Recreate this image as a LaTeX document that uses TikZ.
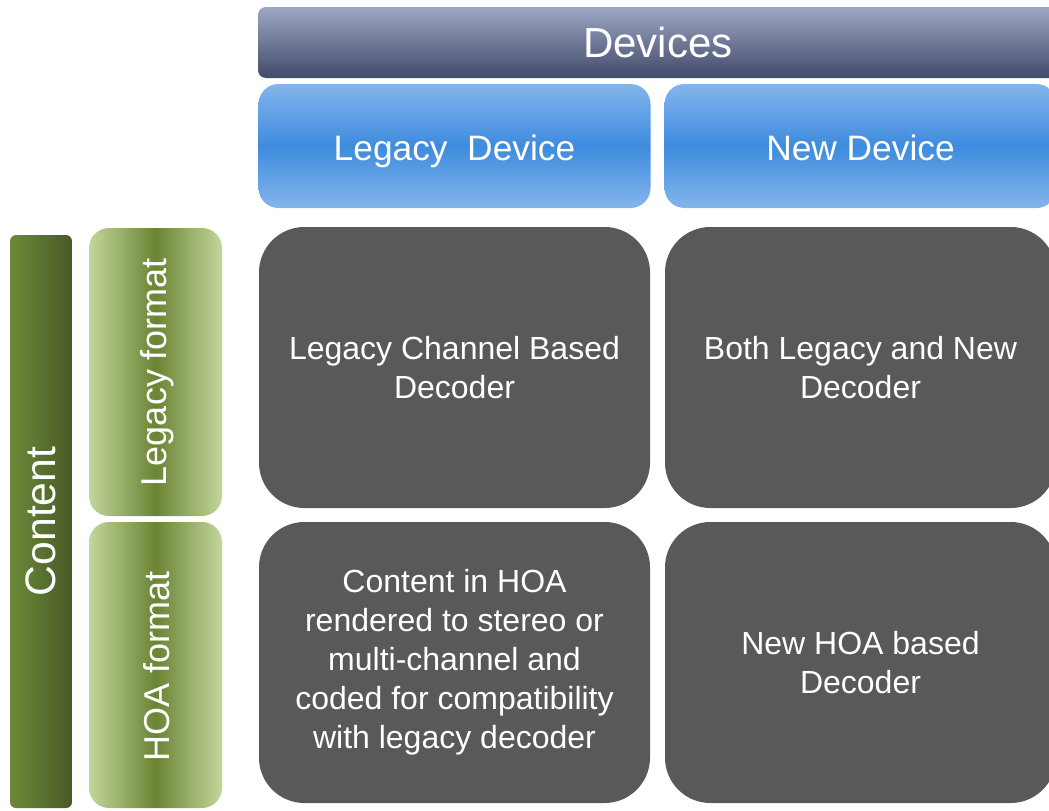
\documentclass[tikz,border=0pt]{standalone}
\usepackage{fontspec}
\setmainfont{Liberation Sans}
\definecolor{darkbox}{HTML}{595959}
\definecolor{devtop}{HTML}{9DA6C3}
\definecolor{devbot}{HTML}{414B69}
\definecolor{blueedge}{HTML}{84B5EC}
\definecolor{bluemid}{HTML}{3E8BDE}
\definecolor{greenedge}{HTML}{C3D69B}
\definecolor{greenmid}{HTML}{6A8434}
\definecolor{contl}{HTML}{6C8A3A}
\definecolor{contr}{HTML}{485A26}
\tikzset{
  base/.style={inner sep=0pt, outer sep=0pt, text=white, align=center},
  cell/.style={base, fill=darkbox, rounded corners=34pt, minimum width={391*0.75pt}, minimum height={281*0.75pt}, font=\fontsize{24}{29.2}\selectfont},
  header/.style={base, top color=blueedge, bottom color=blueedge, middle color=bluemid, rounded corners=15pt, minimum width={392*0.75pt}, minimum height={124*0.75pt}, text height=21pt, text depth=0pt, font=\fontsize{26.5}{30}\selectfont},
  fmtbox/.style={base, left color=greenedge, right color=greenedge, middle color=greenmid, rounded corners=15pt, minimum width={133*0.75pt}},
  sidetext/.style={base, rotate=90, font=\fontsize{27}{30}\selectfont}
}
\begin{document}
\begin{tikzpicture}[x=0.75pt,y=-0.75pt]
\useasboundingbox (0,0) rectangle (1049,810);
\clip (0,0) rectangle (1049,810);
% Devices bar
\node[base, top color=devtop, bottom color=devbot, rounded corners=6pt, minimum width={800*0.75pt}, minimum height={71*0.75pt}, font=\fontsize{31.5}{34}\selectfont] (devices) at (658,42.5) {Devices};
% headers
\node[header] (legdev) at (454.5,146) {Legacy\ \ Device};
\node[header] (newdev) at (860.5,146) {New Device};
% content bar
\node[base, left color=contl, right color=contr, rounded corners=4.5pt, minimum width={62*0.75pt}, minimum height={573*0.75pt}] (content) at (41,521.5) {};
\node[sidetext, font=\fontsize{32}{34}\selectfont] (contentlbl) at (content.center) {Content};
% format boxes
\node[fmtbox, minimum height={288*0.75pt}] (legfmt) at (155.5,372) {};
\node[sidetext] (legfmtlbl) at (157,372) {Legacy format};
\node[fmtbox, minimum height={286*0.75pt}] (hoafmt) at (155.5,665) {};
\node[sidetext] (hoafmtlbl) at (157,666) {HOA format};
% cells
\node[cell] (c11) at (454.5,367.5) {Legacy Channel Based\\Decoder};
\node[cell] (c12) at (860.5,367.5) {Both Legacy and New\\Decoder};
\node[cell] (c21) at (454.5,662.5) {Content in HOA\\rendered to stereo or\\multi-channel and\\coded for compatibility\\with legacy decoder};
\node[cell] (c22) at (860.5,662.5) {New HOA based\\Decoder};
\end{tikzpicture}
\end{document}
